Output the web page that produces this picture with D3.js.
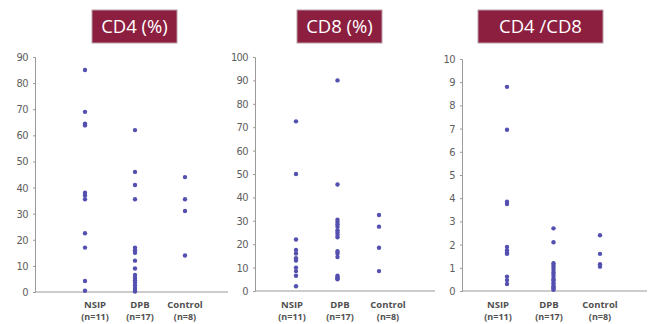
<!DOCTYPE html>
<html><head><meta charset="utf-8">
<script src="https://cdn.jsdelivr.net/npm/d3@7"></script>
<style>
html,body{margin:0;padding:0;background:#fff;}
svg{display:block;}
</style></head>
<body>
<svg id="c" width="650" height="324"></svg>
<script>
// ---- data ----
const categories = ["NSIP", "DPB", "Control"];
const categoryN = ["(n=11)", "(n=17)", "(n=8)"];
const panelTitles = ["CD4 (%)", "CD8 (%)", "CD4 /CD8"];
const yMax = [90, 100, 10];
const yTicks1 = [0,10,20,30,40,50,60,70,80,90];
const yTicks2 = [0,10,20,30,40,50,60,70,80,90,100];
const yTicks3 = [0,1,2,3,4,5,6,7,8,9,10];

const cd4NSIP = [85, 69, 64.5, 63.8, 38, 37, 35.5, 22.5, 17, 4.2, 0.5];
const cd4DPB = [62, 46, 41, 35.5, 17, 16, 15, 12, 9, 6.5, 5.5, 4.5, 3.5, 2.5, 1.5, 0.8, 0.2];
const cd4Control = [44, 35.5, 31, 14];

const cd8NSIP = [72.5, 50, 22, 17.5, 16, 14, 13, 10, 8.5, 6.5, 2];
const cd8DPB = [90, 45.5, 30.5, 29.5, 28.5, 27.5, 26, 25, 24, 23, 17, 16, 14.5, 6.5, 6, 5.5, 5];
const cd8Control = [32.5, 27.5, 18.5, 8.5];

const ratioNSIP = [8.8, 6.95, 3.85, 3.75, 1.9, 1.75, 1.65, 1.6, 0.62, 0.47, 0.3];
const ratioDPB = [2.7, 2.1, 1.2, 1.1, 1.0, 0.9, 0.8, 0.7, 0.6, 0.5, 0.45, 0.35, 0.3, 0.2, 0.15, 0.1, 0.05];
const ratioControl = [2.4, 1.6, 1.15, 1.05];

// ---- layout ----
const panels = [
  {title: panelTitles[0], max: yMax[0], ticks: yTicks1, series: [cd4NSIP, cd4DPB, cd4Control],
   axisX: 35, xEnd: 228, y0: 292, y1: 57, dotRange: [85, 185], labRange: [95, 185], box: [92, 10, 85, 33]},
  {title: panelTitles[1], max: yMax[1], ticks: yTicks2, series: [cd8NSIP, cd8DPB, cd8Control],
   axisX: 255, xEnd: 435, y0: 291, y1: 57, dotRange: [296, 379], labRange: [292, 388], box: [297, 10, 85, 33]},
  {title: panelTitles[2], max: yMax[2], ticks: yTicks3, series: [ratioNSIP, ratioDPB, ratioControl],
   axisX: 462, xEnd: 647, y0: 291, y1: 59, dotRange: [507, 600], labRange: [498, 600], box: [478, 10, 125, 33]}
];

const svg = d3.select("#c");
const axisColor = "#9a9a9a";
const dotColor = "#5450b0";

panels.forEach(p => {
  const g = svg.append("g");
  const y = d3.scaleLinear().domain([0, p.max]).range([p.y0, p.y1]);
  const x = d3.scalePoint().domain(categories).range(p.dotRange);
  const xl = d3.scalePoint().domain(categories).range(p.labRange);

  // title box
  g.append("rect")
    .attr("x", p.box[0]).attr("y", p.box[1]).attr("width", p.box[2]).attr("height", p.box[3])
    .attr("fill", "#8c1f3f").attr("stroke", "#b7a0a8").attr("stroke-width", 1);
  g.append("text")
    .attr("x", p.box[0] + p.box[2] / 2).attr("y", p.box[1] + p.box[3] / 2 + 6.5)
    .attr("text-anchor", "middle")
    .attr("fill", "#fff").attr("font-family", "Open Sans, sans-serif").attr("font-size", 18.5)
    .text(p.title);

  // y axis
  const ya = g.append("g").attr("transform", `translate(${p.axisX},0)`)
    .call(d3.axisLeft(y).tickValues(p.ticks).tickSize(2).tickPadding(5));
  ya.select(".domain").attr("stroke", axisColor);
  ya.selectAll(".tick line").attr("stroke", axisColor);
  ya.selectAll("text").attr("fill", "#5e5e5e")
    .attr("font-family", "DejaVu Sans Condensed, sans-serif").attr("font-size", 11)
    .style("letter-spacing", "-0.6px");

  // x axis baseline
  g.append("line")
    .attr("x1", p.axisX).attr("x2", p.xEnd).attr("y1", y(0)).attr("y2", y(0))
    .attr("stroke", axisColor).attr("stroke-width", 1.2);

  // category labels
  categories.forEach((c, i) => {
    g.append("text").attr("x", xl(c)).attr("y", 308)
      .attr("text-anchor", "middle").attr("fill", "#505050")
      .attr("font-family", "Open Sans, sans-serif").attr("font-weight", "bold").attr("font-size", 9.5)
      .text(c);
    g.append("text").attr("x", xl(c)).attr("y", 320)
      .attr("text-anchor", "middle").attr("fill", "#505050")
      .attr("font-family", "Open Sans, sans-serif").attr("font-weight", "bold").attr("font-size", 9)
      .text(categoryN[i]);
  });

  // dots
  p.series.forEach((vals, i) => {
    g.selectAll(null).data(vals).enter().append("circle")
      .attr("cx", x(categories[i])).attr("cy", d => y(d)).attr("r", 2.2)
      .attr("fill", dotColor);
  });
});
</script>
</body></html>
